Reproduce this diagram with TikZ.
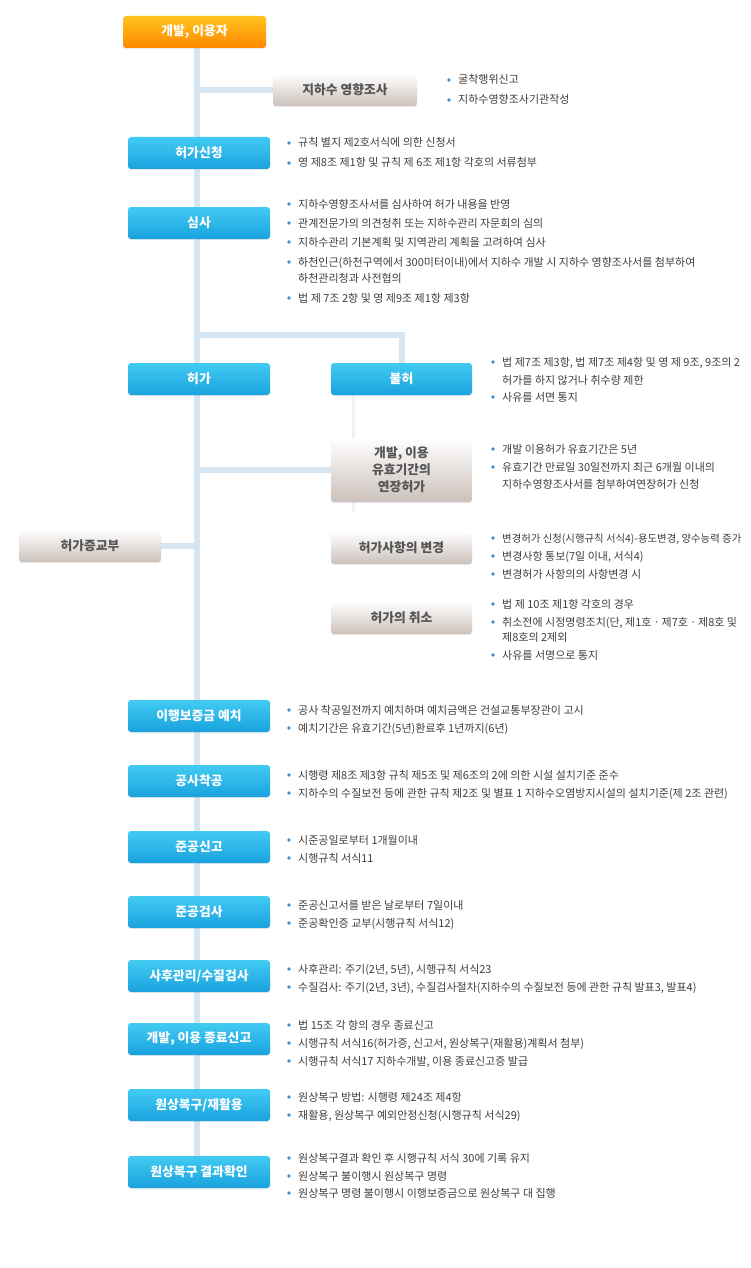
\documentclass[tikz,border=0pt]{standalone}
\usepackage{fontspec}
\setmainfont{Noto Sans CJK KR}
\usetikzlibrary{shadows,backgrounds}

\definecolor{orgtop}{HTML}{FFC41E}
\definecolor{orgbot}{HTML}{FF8800}
\definecolor{blutop}{HTML}{42CBF2}
\definecolor{blubot}{HTML}{19A2DE}
\definecolor{grybot}{HTML}{CBC1BA}
\definecolor{grytxt}{HTML}{555555}
\definecolor{txt}{HTML}{3E3E3E}
\definecolor{bul}{HTML}{3C8DD0}
\definecolor{linkc}{HTML}{D5E5F2}
\definecolor{faintc}{HTML}{EBF2F8}

% bullet item: name, x, baseline y, text
\newcommand\bitem[4]{\fill[bul] (#2-9,#3-4) circle (1.8);
  \node[desc] (#1) at (#2,#3) {#4};}
% continuation line of an item
\newcommand\bline[4]{\node[desc] (#1) at (#2,#3) {#4};}

\begin{document}
\begin{tikzpicture}[x=1pt, y=-1pt,
  box/.style={rounded corners=3pt, minimum width=142pt, minimum height=32pt,
    inner sep=2pt, font=\fontsize{12.8}{17}\selectfont\bfseries,
    drop shadow={opacity=0.15, shadow xshift=0pt, shadow yshift=-1.2pt}},
  orangebox/.style={box, top color=orgtop, bottom color=orgbot, text=white},
  bluebox/.style={box, top color=blutop, bottom color=blubot, text=white},
  graybox/.style={box, top color=white, middle color=white, bottom color=grybot, text=grytxt},
  desc/.style={anchor=base west, inner sep=0pt, text=txt, font=\fontsize{11}{12}\selectfont},
  link/.style={draw=linkc, line width=6pt},
  faintlink/.style={draw=faintc, line width=3pt}]
  \useasboundingbox (0,0) rectangle (750,1268);

  \coordinate (trunk) at (197,0);
  \coordinate (split) at (197,335);
  \coordinate (tail) at (353,512);

  \node[orangebox, minimum width=143pt] (dev) at (194.5,32) {개발, 이용자};
  \node[graybox, minimum width=144pt] (survey) at (345,90) {지하수 영향조사};

  \node[bluebox] (apply) at (199,153) {허가신청};
  \node[bluebox] (review) at (199,223) {심사};
  \node[bluebox] (permit) at (199,379) {허가};
  \node[bluebox, minimum width=141pt] (reject) at (401.5,379) {불허};
  \node[graybox, minimum width=141pt, minimum height=64pt, align=center] (extend) at (401.5,470)
    {개발, 이용\\유효기간의\\연장허가};
  \node[graybox] (issue) at (90,546) {허가증교부};
  \node[graybox, minimum width=141pt] (change) at (401.5,548) {허가사항의 변경};
  \node[graybox, minimum width=141pt] (cancel) at (401.5,618) {허가의 취소};

  \node[bluebox] (deposit) at (199,716) {이행보증금 예치};
  \node[bluebox] (start) at (199,781) {공사착공};
  \node[bluebox] (report) at (199,847) {준공신고};
  \node[bluebox] (inspect) at (199,912) {준공검사};
  \node[bluebox] (manage) at (199,976) {사후관리/수질검사};
  \node[bluebox] (close) at (199,1039) {개발, 이용 종료신고};
  \node[bluebox] (restore) at (199,1105) {원상복구/재활용};
  \node[bluebox] (confirm) at (199,1172) {원상복구 결과확인};

  % connectors behind the boxes
  \begin{scope}[on background layer]
    \draw[link] (dev.south -| trunk) -- (confirm.north -| trunk);
    \draw[link] (survey.west -| trunk) -- (survey.west);
    \draw[link] (split) -| (reject.north);
    \draw[faintlink] (reject.south -| tail) -- (tail);
    \draw[link] (extend.west -| trunk) -- (extend.west);
    \draw[link] (issue.east) -- (issue.east -| trunk);
  \end{scope}

  % descriptions
  \bitem{s1}{458}{84}{굴착행위신고}
  \bitem{s2}{458}{104}{지하수영향조사기관작성}

  \bitem{a1}{298}{147}{규칙 별지 제2호서식에 의한 신청서}
  \bitem{a2}{298}{167}{영 제8조 제1항 및 규칙 제 6조 제1항 각호의 서류첨부}

  \bitem{r1}{298}{208}{지하수영향조사서를 심사하여 허가 내용을 반영}
  \bitem{r2}{298}{227}{관계전문가의 의견청취 또는 지하수관리 자문회의 심의}
  \bitem{r3}{298}{246}{지하수관리 기본계획 및 지역관리 계획을 고려하여 심사}
  \bitem{r4}{298}{266}{하천인근(하천구역에서 300미터이내)에서 지하수 개발 시 지하수 영향조사서를 첨부하여}
  \bline{r4b}{298}{282}{하천관리청과 사전협의}
  \bitem{r5}{298}{302}{법 제 7조 2항 및 영 제9조 제1항 제3항}

  \bitem{j1}{502}{366}{법 제7조 제3항, 법 제7조 제4항 및 영 제 9조, 9조의 2}
  \bline{j1b}{502}{384}{허가를 하지 않거나 취수량 제한}
  \bitem{j2}{502}{401}{사유를 서면 통지}

  \bitem{e1}{502}{453}{개발 이용허가 유효기간은 5년}
  \bitem{e2}{502}{471}{유효기간 만료일 30일전까지 최근 6개월 이내의}
  \bline{e2b}{502}{488}{지하수영향조사서를 첨부하여연장허가 신청}

  \bitem{c1}{502}{542}{\fontsize{10.4}{12}\selectfont 변경허가 신청(시행규칙 서식4)-용도변경, 양수능력 증가}
  \bitem{c2}{502}{560}{변경사항 통보(7일 이내, 서식4)}
  \bitem{c3}{502}{578}{변경허가 사항의의 사항변경 시}

  \bitem{k1}{502}{608}{법 제 10조 제1항 각호의 경우}
  \bitem{k2}{502}{626}{취소전에 시정명령조치(단, 제1호ㆍ제7호ㆍ제8호 및}
  \bline{k2b}{502}{641}{제8호의 2제외}
  \bitem{k3}{502}{659}{사유를 서명으로 통지}

  \bitem{d1}{298}{714}{공사 착공일전까지 예치하며 예치금액은 건설교통부장관이 고시}
  \bitem{d2}{298}{732}{예치기간은 유효기간(5년)환료후 1년까지(6년)}

  \bitem{t1}{298}{779}{시행령 제8조 제3항 규칙 제5조 및 제6조의 2에 의한 시설 설치기준 준수}
  \bitem{t2}{298}{797}{지하수의 수질보전 등에 관한 규칙 제2조 및 별표 1 지하수오염방지시설의 설치기준(제 2조 관련)}

  \bitem{p1}{298}{844}{시준공일로부터 1개월이내}
  \bitem{p2}{298}{862}{시행규칙 서식11}

  \bitem{i1}{298}{909}{준공신고서를 받은 날로부터 7일이내}
  \bitem{i2}{298}{927}{준공확인증 교부(시행규칙 서식12)}

  \bitem{m1}{298}{973}{사후관리: 주기(2년, 5년), 시행규칙 서식23}
  \bitem{m2}{298}{991}{수질검사: 주기(2년, 3년), 수질검사절차(지하수의 수질보전 등에 관한 규칙 발표3, 발표4)}

  \bitem{f1}{298}{1029}{법 15조 각 항의 경우 종료신고}
  \bitem{f2}{298}{1047}{시행규칙 서식16(허가증, 신고서, 원상복구(재활용)계획서 첨부)}
  \bitem{f3}{298}{1065}{시행규칙 서식17 지하수개발, 이용 종료신고증 발급}

  \bitem{w1}{298}{1101}{원상복구 방법: 시행령 제24조 제4항}
  \bitem{w2}{298}{1119}{재활용, 원상복구 예외안정신청(시행규칙 서식29)}

  \bitem{x1}{298}{1162}{원상복구결과 확인 후 시행규칙 서식 30에 기록 유지}
  \bitem{x2}{298}{1180}{원상복구 불이행시 원상복구 명령}
  \bitem{x3}{298}{1197}{원상복구 명령 불이행시 이행보증금으로 원상복구 대 집행}
\end{tikzpicture}
\end{document}
